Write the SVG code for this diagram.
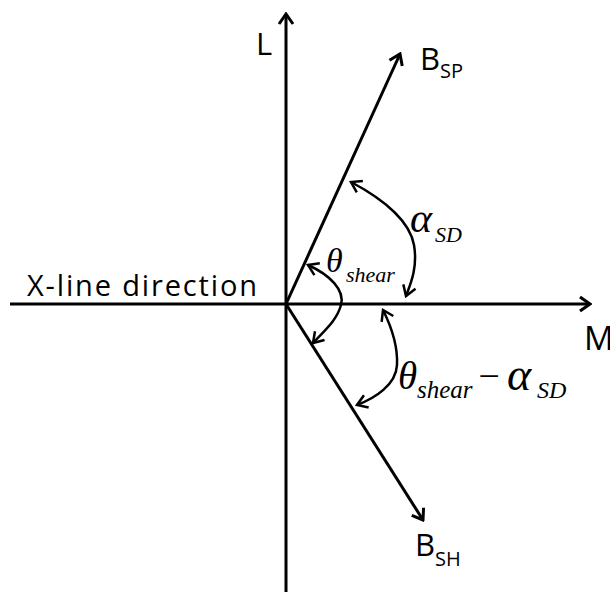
<svg xmlns="http://www.w3.org/2000/svg" width="610" height="592" viewBox="0 0 610 592">
<style>
.ax{stroke:#000;stroke-width:3;fill:none}
.arc{stroke:#000;stroke-width:2.5;fill:none}
.lbl{font-family:"Open Sans","Liberation Sans",sans-serif;fill:#000}
.gr{font-family:"Liberation Serif","DejaVu Serif",serif;font-style:italic;fill:#000}
</style>
<defs>
<marker id="ah" markerUnits="userSpaceOnUse" viewBox="-14 -9 16 18" markerWidth="16" markerHeight="18" refX="0" refY="0" orient="auto-start-reverse">
<path d="M-10,-7 L0,0 L-10,7" fill="none" stroke="#000" stroke-width="3" stroke-linejoin="miter"/>
</marker>
<marker id="ah2" markerUnits="userSpaceOnUse" viewBox="-14 -9 16 18" markerWidth="16" markerHeight="18" refX="0" refY="0" orient="auto-start-reverse">
<path d="M-10,-6.5 L0,0 L-10,6.5" fill="none" stroke="#000" stroke-width="2.5" stroke-linejoin="miter"/>
</marker>
</defs>
<rect width="610" height="592" fill="#fff"/>
<g id="connectors">
<line class="ax" x1="286" y1="592" x2="286" y2="14" marker-end="url(#ah)"/>
<line class="ax" x1="10" y1="304" x2="590" y2="304" marker-end="url(#ah)"/>
<line class="ax" x1="286" y1="304" x2="400" y2="54" marker-end="url(#ah)"/>
<line class="ax" x1="286" y1="304" x2="423" y2="520" marker-end="url(#ah)"/>
<path class="arc" d="M351,182 C385,200 410,222 414,245 S410,285 406,296" marker-start="url(#ah2)" marker-end="url(#ah2)"/>
<path class="arc" d="M308,265 C330,275 345,290 341,305 S325,330 313,343" marker-start="url(#ah2)" marker-end="url(#ah2)"/>
<path class="arc" d="M383,310 C392,328 398,345 397,365 S375,398 357,405" marker-start="url(#ah2)" marker-end="url(#ah2)"/>
</g>
<g id="L"><text class="lbl" x="256" y="55" font-size="31">L</text></g>
<g id="M"><text class="lbl" x="584" y="350" font-size="33">M</text></g>
<g id="xline"><text class="lbl" x="27" y="296" font-size="29" textLength="230" lengthAdjust="spacing">X-line direction</text></g>
<g id="BSP"><text class="lbl" x="420" y="70" font-size="31">B<tspan font-size="20" dy="8">SP</tspan></text></g>
<g id="BSH"><text class="lbl" x="415" y="556" font-size="31">B<tspan font-size="20" dy="10">SH</tspan></text></g>
<g id="alphaSD"><text class="gr" x="410" y="232" font-size="42">α</text><text class="gr" x="435" y="242" font-size="22">SD</text></g>
<g id="thetaShear"><text class="gr" x="326" y="272" font-size="34">θ</text><text class="gr" x="346" y="282" font-size="22">shear</text></g>
<g id="thetaMinusAlpha"><text class="gr" x="398" y="389" font-size="39">θ</text><text class="gr" x="417" y="398" font-size="25">shear</text><text class="gr" x="476" y="389" font-size="38" font-style="normal">−</text><text class="gr" x="507" y="390" font-size="46">α</text><text class="gr" x="537" y="398" font-size="24">SD</text></g>
</svg>
